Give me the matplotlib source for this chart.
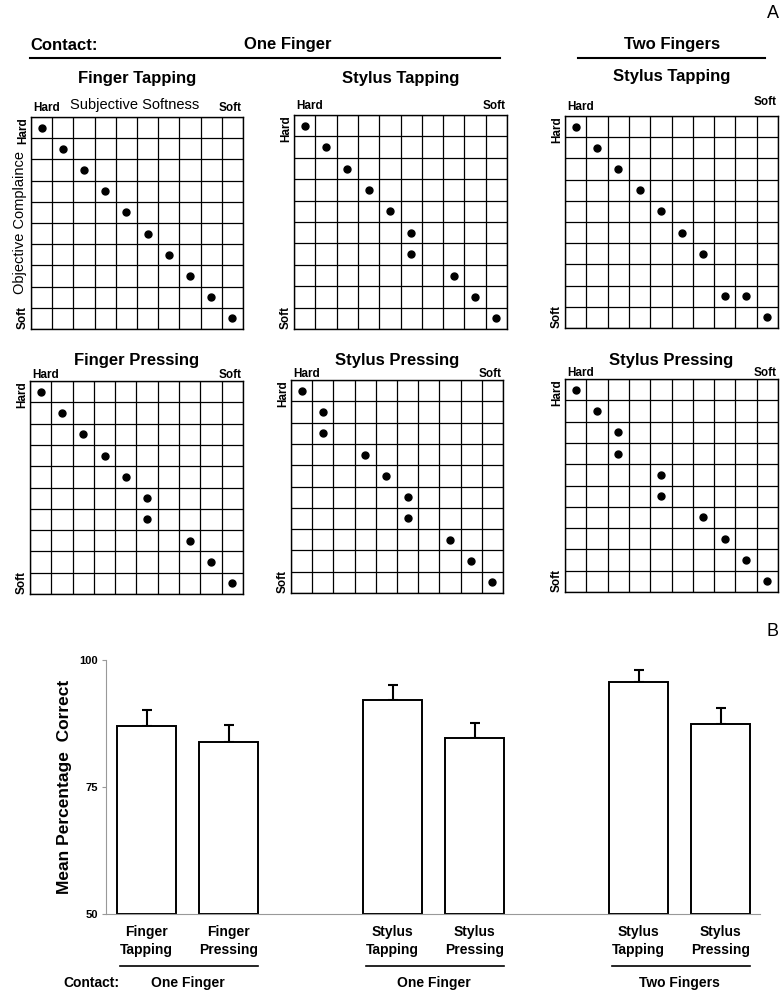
import numpy as np
import matplotlib
matplotlib.use('Agg')
import matplotlib.pyplot as plt
import matplotlib.transforms as mtransforms
from matplotlib.lines import Line2D

plt.rcParams['font.family'] = ['Liberation Sans', 'DejaVu Sans']

# ---- panel A data: dot positions (row = objective compliance, col = subjective softness)
panel_titles = ['Finger Tapping', 'Stylus Tapping', 'Stylus Tapping',
                'Finger Pressing', 'Stylus Pressing', 'Stylus Pressing']
finger_tap_rows = [0, 1, 2, 3, 4, 5, 6, 7, 8, 9]
finger_tap_cols = [0, 1, 2, 3, 4, 5, 6, 7, 8, 9]
stylus_tap1_rows = [0, 1, 2, 3, 4, 5, 6, 7, 8, 9]
stylus_tap1_cols = [0, 1, 2, 3, 4, 5, 5, 7, 8, 9]
stylus_tap2_rows = [0, 1, 2, 3, 4, 5, 6, 8, 8, 9]
stylus_tap2_cols = [0, 1, 2, 3, 4, 5, 6, 7, 8, 9]
finger_press_rows = [0, 1, 2, 3, 4, 5, 6, 7, 8, 9]
finger_press_cols = [0, 1, 2, 3, 4, 5, 5, 7, 8, 9]
stylus_press1_rows = [0, 1, 2, 3, 4, 5, 6, 7, 8, 9]
stylus_press1_cols = [0, 1, 1, 3, 4, 5, 5, 7, 8, 9]
stylus_press2_rows = [0, 1, 2, 3, 4, 5, 6, 7, 8, 9]
stylus_press2_cols = [0, 1, 2, 2, 4, 4, 6, 7, 8, 9]

# ---- panel B data
conditions = ['Finger\nTapping', 'Finger\nPressing', 'Stylus\nTapping',
              'Stylus\nPressing', 'Stylus\nTapping', 'Stylus\nPressing']
bar_pos = [0, 1, 3, 4, 6, 7]
mean_correct = [87.0, 83.9, 92.1, 84.7, 95.7, 87.4]
sem = [3.2, 3.4, 3.0, 2.9, 2.4, 3.2]
groups = ['One Finger', 'One Finger', 'Two Fingers']

W, H = 781, 992
fig = plt.figure(figsize=(W / 100, H / 100), dpi=100)


def fx(x):
    return x / W


def fy(y):
    return 1 - y / H


def hline(x0, x1, y, lw=1.5):
    fig.add_artist(Line2D([fx(x0), fx(x1)], [fy(y), fy(y)], color='black', lw=lw))


# header
fig.text(fx(773), fy(13), 'A', fontsize=13, ha='center', va='center')
fig.text(fx(773), fy(632), 'B', fontsize=13, ha='center', va='center')
fig.text(fx(30), fy(45), 'Contact:', fontsize=12, fontweight='bold', va='center')
fig.text(fx(288), fy(45), 'One Finger', fontsize=12, fontweight='bold', ha='center', va='center')
fig.text(fx(672), fy(45), 'Two Fingers', fontsize=12, fontweight='bold', ha='center', va='center')
hline(30, 500, 58)
hline(578, 765, 58)

# grid panels: (left, top, right, bottom) in pixels
boxes = [(31, 117, 243, 329), (294, 115, 507, 329), (565, 116, 778, 328),
         (30, 381, 243, 594), (291, 380, 503, 593), (565, 379, 778, 592)]
dots = [(finger_tap_rows, finger_tap_cols), (stylus_tap1_rows, stylus_tap1_cols),
        (stylus_tap2_rows, stylus_tap2_cols), (finger_press_rows, finger_press_cols),
        (stylus_press1_rows, stylus_press1_cols), (stylus_press2_rows, stylus_press2_cols)]
title_y = [79, 79, 77, 360, 361, 360]

for i, (box, (rows, cols)) in enumerate(zip(boxes, dots)):
    l, t, r, b = box
    ax = fig.add_axes([fx(l), fy(b), (r - l) / W, (b - t) / H])
    ax.set_xlim(0, 10)
    ax.set_ylim(10, 0)
    ax.set_xticks(range(11))
    ax.set_yticks(range(11))
    ax.grid(True, color='black', lw=0.9)
    ax.tick_params(length=0, labelbottom=False, labelleft=False)
    for s in ax.spines.values():
        s.set_linewidth(1.0)
    ax.plot(np.array(cols) + 0.5, np.array(rows) + 0.5, 'o', ms=5, color='black')

    cx = (l + r) / 2
    fig.text(fx(cx), fy(title_y[i]), panel_titles[i], fontsize=12, fontweight='bold',
             ha='center', va='center')
    off = 3 if i < 3 else 0
    fig.text(fx(l + 2), fy(t - off), 'Hard', fontsize=8.5, fontweight='bold', va='bottom')
    soft_off = 8 if i == 2 else off
    fig.text(fx(r - 1), fy(t - soft_off), 'Soft', fontsize=8.5, fontweight='bold',
             ha='right', va='bottom')
    fig.text(fx(l - 8), fy(t), 'Hard', fontsize=8.5, fontweight='bold', rotation=90,
             ha='center', va='top')
    fig.text(fx(l - 8), fy(b), 'Soft', fontsize=8.5, fontweight='bold', rotation=90,
             ha='center', va='bottom')

fig.text(fx(135), fy(105), 'Subjective Softness', fontsize=10.5, ha='center', va='center')
fig.text(fx(20), fy(222), 'Objective Complaince', fontsize=10.5, rotation=90,
         ha='center', va='center')

# ---- bar chart
axb = fig.add_axes([fx(106), fy(914), (760 - 106) / W, (914 - 660) / H])
axb.bar(bar_pos, np.array(mean_correct) - 50, bottom=50, width=0.72, color='white',
        edgecolor='black', lw=1.4, zorder=2)
axb.errorbar(bar_pos, mean_correct, yerr=[np.zeros(len(sem)), sem], fmt='none',
             ecolor='black', elinewidth=1.5, capsize=3.3, capthick=1.5, zorder=1)
axb.set_xlim(-0.494, 7.48)
axb.set_ylim(50, 100)
axb.set_yticks([50, 75, 100])
axb.set_yticklabels(['50', '75', '100'], fontsize=8, fontweight='bold')
axb.set_xticks(bar_pos)
axb.set_xticklabels(conditions, fontsize=10, fontweight='bold', linespacing=1.35)
axb.tick_params(axis='x', length=0, pad=8)
axb.tick_params(axis='y', length=3, color='0.6', pad=3)
for s in ['top', 'right']:
    axb.spines[s].set_visible(False)
for s in ['left', 'bottom']:
    axb.spines[s].set_color('0.6')
    axb.spines[s].set_linewidth(0.8)

trans = mtransforms.blended_transform_factory(axb.transData, axb.transAxes)
for g in range(3):
    p0, p1 = bar_pos[2 * g], bar_pos[2 * g + 1]
    axb.plot([p0 - 0.32, p1 + 0.36], [-0.205, -0.205], transform=trans, color='black',
             lw=1.2, clip_on=False)
    axb.text((p0 + p1) / 2, -0.272, groups[g], transform=trans, fontsize=10,
             fontweight='bold', ha='center', va='center')

fig.text(fx(63), fy(983), 'Contact:', fontsize=10, fontweight='bold', va='center')
fig.text(fx(65), fy(787), 'Mean Percentage  Correct', fontsize=12.5, fontweight='bold',
         rotation=90, ha='center', va='center')

fig.savefig('out.png', dpi=100)
